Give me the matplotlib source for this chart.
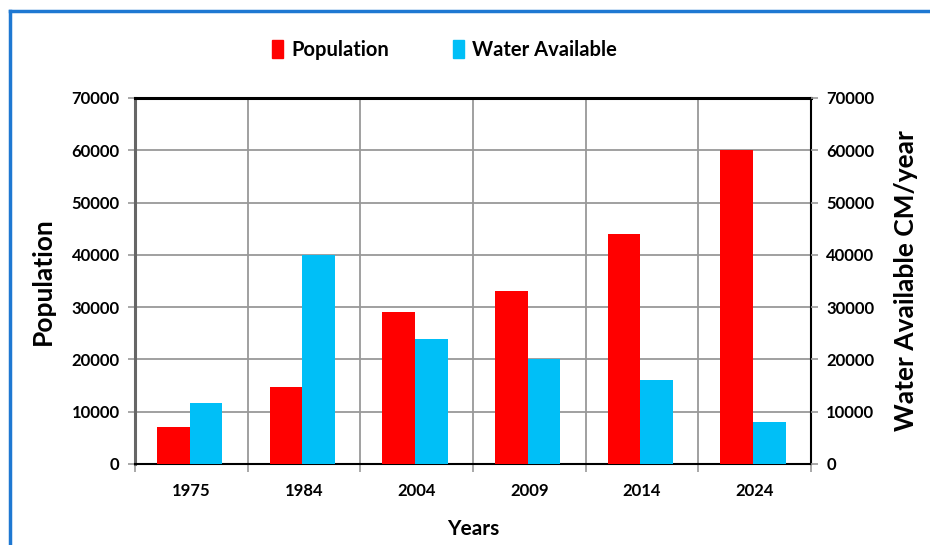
import matplotlib.pyplot as plt
import numpy as np
from matplotlib.lines import Line2D
import matplotlib.patches as mpatches

plt.rcParams['font.family'] = ['Lato', 'DejaVu Sans']
plt.rcParams['font.weight'] = 'bold'
plt.rcParams['axes.labelweight'] = 'bold'

years = ['1975', '1984', '2004', '2009', '2014', '2024']
population = [7100, 14700, 29000, 33000, 44000, 60000]
water = [11700, 40000, 24000, 20000, 16000, 8000]

red = '#ff0000'
cyan = '#00bff7'
grid_col = '#999999'

fig = plt.figure(figsize=(9.3, 5.45), dpi=100)
ax = fig.add_axes([135 / 930, 1 - 464 / 545, 676 / 930, 366 / 545])

x = np.arange(len(years))
w = 0.29
ax.bar(x - w / 2 - 0.015, population, w, color=red, zorder=3)
ax.bar(x + w / 2 - 0.015, water, w, color=cyan, zorder=3)

ax.set_xlim(-0.5, len(years) - 0.5)
ax.set_ylim(0, 70000)
ax.set_yticks(np.arange(0, 70001, 10000))

# ticks and vertical grid sit between categories, labels at the centres
ax.set_xticks(np.arange(-0.5, len(years)), labels=[''] * (len(years) + 1))
ax.set_xticks(x, labels=years, minor=True)
ax.tick_params(axis='x', which='minor', length=0, pad=14, labelsize=12)
ax.tick_params(axis='x', which='major', length=6, width=1.2, color=grid_col)
ax.tick_params(axis='y', length=5, width=1.2, color=grid_col, labelsize=12, pad=6)
ax.grid(True, which='major', color=grid_col, linewidth=1.3, zorder=0)

for side in ['top', 'right', 'bottom']:
    ax.spines[side].set_color('black')
ax.spines['top'].set_linewidth(2.2)
ax.spines['right'].set_linewidth(1.5)
ax.spines['bottom'].set_linewidth(1.5)
ax.spines['left'].set_color('#666666')
ax.spines['left'].set_linewidth(2.2)

ax.set_ylabel('Population', fontsize=19, labelpad=12)
ax.set_xlabel('Years', fontsize=15, labelpad=14)

ax2 = ax.twinx()
ax2.set_ylim(ax.get_ylim())
ax2.set_yticks(np.arange(0, 70001, 10000))
ax2.tick_params(axis='y', length=5, width=1.2, color=grid_col, labelsize=12, pad=6)
for s in ax2.spines.values():
    s.set_visible(False)
ax2.set_ylabel('Water Available CM/year', fontsize=19, labelpad=14)

fig.legend(handles=[mpatches.Patch(color=red, label='Population'),
                    mpatches.Patch(color=cyan, label='Water Available')],
           loc='center', bbox_to_anchor=(0.478, 0.908), ncols=2, frameon=False,
           fontsize=14.5, handlelength=0.55, handleheight=1.0, handletextpad=0.4,
           columnspacing=3.2)

# blue frame around the figure
fig.add_artist(Line2D([10 / 930, 1], [1 - 11 / 545] * 2, color='#1e78d2', linewidth=2.5))
fig.add_artist(Line2D([10 / 930] * 2, [0, 1 - 11 / 545], color='#1e78d2', linewidth=2.5))

fig.savefig('out.png', dpi=100)
